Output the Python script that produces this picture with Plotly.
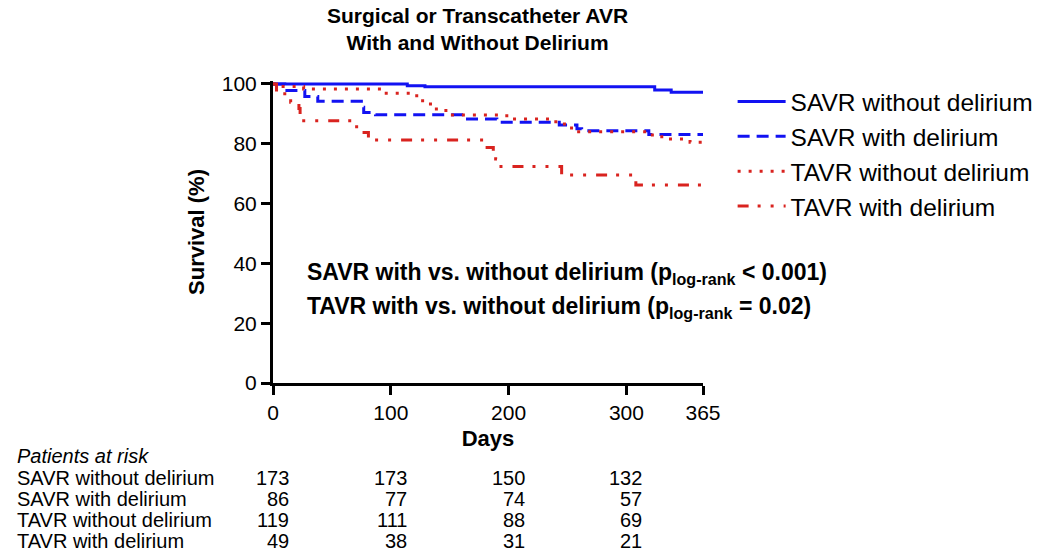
import plotly.graph_objects as go

# ---- data ----
series_names = ["SAVR without delirium", "SAVR with delirium",
                "TAVR without delirium", "TAVR with delirium"]

savr_no_days = [0, 114, 129, 324, 338, 365]
savr_no_surv = [100, 99.4, 99.1, 98.0, 97.2, 97.2]

savr_del_days = [0, 10, 27, 38, 75, 77, 87, 162, 190, 243, 258, 262, 319, 365]
savr_del_surv = [100, 97.8, 95.8, 94.2, 92.2, 90.5, 89.7, 88.3, 87.2, 86.3, 85.0, 84.4, 83.1, 83.1]

tavr_no_days = [0, 4, 26, 92, 122, 127, 135, 145, 150, 194, 203, 233, 243, 250, 258, 319, 330, 354, 365]
tavr_no_surv = [100, 99.2, 98.3, 96.9, 95.5, 93.3, 91.6, 91.1, 89.6, 89.4, 88.3, 87.4, 86.6, 85.3, 84.0, 82.9, 81.6, 80.5, 80.5]

tavr_del_days = [0, 3, 10, 15, 22, 23, 71, 81, 179, 187, 189, 192, 245, 308, 365]
tavr_del_surv = [100, 98.0, 95.9, 93.9, 91.8, 87.7, 83.8, 81.3, 78.8, 76.0, 74.9, 72.4, 69.6, 66.2, 66.2]

risk_days = [0, 100, 200, 300]
risk_savr_no = [173, 173, 150, 132]
risk_savr_del = [86, 77, 74, 57]
risk_tavr_no = [119, 111, 88, 69]
risk_tavr_del = [49, 38, 31, 21]

x_ticks = [0, 100, 200, 300, 365]
y_ticks = [0, 20, 40, 60, 80, 100]

# ---- styling ----
BLUE = "#1212F2"
RED = "#D9231F"
FONT = "Liberation Sans, Arial, Helvetica, sans-serif"

curves = [
    (savr_no_days, savr_no_surv, BLUE, "solid"),
    (savr_del_days, savr_del_surv, BLUE, "12px,7px"),
    (tavr_no_days, tavr_no_surv, RED, "3px,8px"),
    (tavr_del_days, tavr_del_surv, RED, "11px,9px,3px,10px,3px,10px"),
]

fig = go.Figure()
for name, (d, s, c, dash) in zip(series_names, curves):
    fig.add_trace(go.Scatter(
        x=d, y=s, mode="lines", name=name,
        line=dict(shape="hv", color=c, width=3, dash=dash),
        hoverinfo="skip"))

W, H = 1050, 554
L, R, T, B = 273, 327, 81, 171
plot_h = H - T - B


def py(pix):
    """pixel y -> paper y"""
    return (H - B - pix) / plot_h


def px(pix):
    return (pix - L) / (W - L - R)


annotations = []
# title (two lines)
annotations.append(dict(text="<b>Surgical or Transcatheter AVR<br>With and Without Delirium</b>",
                        x=px(487), y=py(29), xref="paper", yref="paper", showarrow=False,
                        align="center",
                        font=dict(size=21, color="black", family=FONT), xanchor="center", yanchor="middle"))
# p-values
annotations.append(dict(text="<b>SAVR with vs. without delirium (p<sub>log-rank</sub> &lt; 0.001)</b>",
                        x=px(306), y=py(273), xref="paper", yref="paper", showarrow=False,
                        font=dict(size=23, color="black", family=FONT), xanchor="left", yanchor="middle"))
annotations.append(dict(text="<b>TAVR with vs. without delirium (p<sub>log-rank</sub> = 0.02)</b>",
                        x=px(306), y=py(307), xref="paper", yref="paper", showarrow=False,
                        font=dict(size=23, color="black", family=FONT), xanchor="left", yanchor="middle"))
# risk table
annotations.append(dict(text="<i>Patients at risk</i>", x=px(3), y=py(456), xref="paper", yref="paper",
                        showarrow=False, font=dict(size=20, color="black", family=FONT),
                        xanchor="left", yanchor="middle"))
row_y = [478, 499, 520, 541]
for name, vals, ry in zip(series_names, [risk_savr_no, risk_savr_del, risk_tavr_no, risk_tavr_del], row_y):
    annotations.append(dict(text=name, x=px(3), y=py(ry), xref="paper", yref="paper",
                            showarrow=False, font=dict(size=20, color="black", family=FONT),
                            xanchor="left", yanchor="middle"))
    for dday, v in zip(risk_days, vals):
        annotations.append(dict(text=str(v), x=dday, y=py(ry), xref="x", yref="paper",
                                xshift=18, showarrow=False,
                                font=dict(size=20, color="black", family=FONT),
                                xanchor="right", yanchor="middle"))

fig.update_layout(
    width=W, height=H,
    margin=dict(l=L, r=R, t=T, b=B, pad=0),
    paper_bgcolor="white", plot_bgcolor="white",
    font=dict(family=FONT, color="black", size=21),
    showlegend=True,
    legend=dict(x=px(754), y=py(79), xanchor="left", yanchor="top",
                font=dict(size=24.5, color="black", family=FONT),
                bgcolor="rgba(0,0,0,0)", itemwidth=48, tracegroupgap=0),
    annotations=annotations,
    xaxis=dict(range=[0, 365], tickvals=x_ticks, ticktext=[str(t) for t in x_ticks],
               showgrid=False, zeroline=False, showline=True, linecolor="black", linewidth=3,
               ticks="outside", ticklen=9, tickwidth=3, tickcolor="black",
               tickfont=dict(size=21, color="black", family=FONT),
               title=dict(text="<b>Days</b>", font=dict(size=22, color="black", family=FONT), standoff=8)),
    yaxis=dict(range=[0, 101], tickvals=y_ticks, ticktext=[str(t) for t in y_ticks],
               showgrid=False, zeroline=False, showline=True, linecolor="black", linewidth=3,
               ticks="outside", ticklen=9, tickwidth=3, tickcolor="black",
               tickfont=dict(size=21, color="black", family=FONT),
               title=dict(text="<b>Survival (%)</b>", font=dict(size=22, color="black", family=FONT), standoff=12)),
)

fig.write_html("out.html", config={"displayModeBar": False},
               post_script="document.body.style.margin='0px';document.body.style.overflow='hidden';")
